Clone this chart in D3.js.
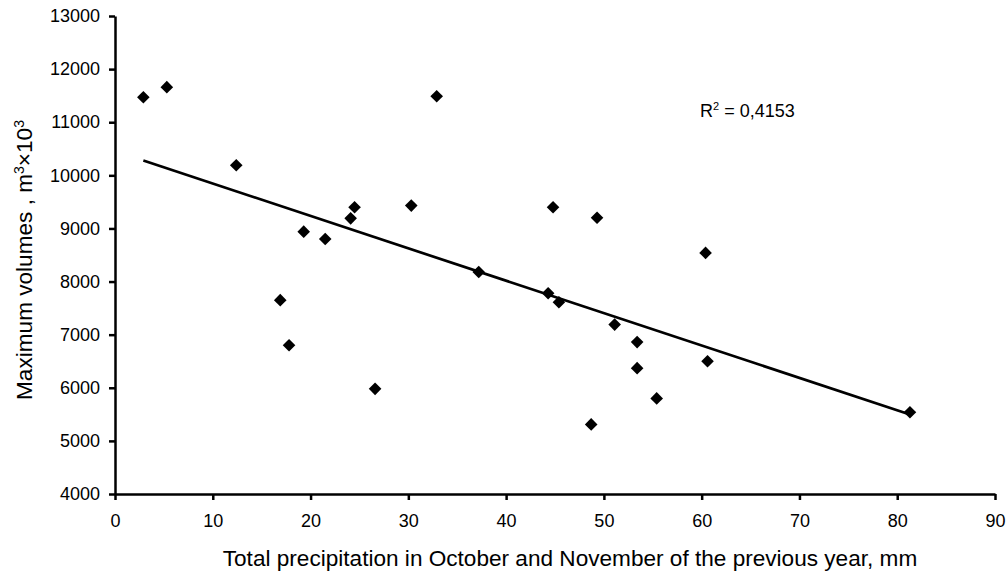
<!DOCTYPE html>
<html>
<head>
<meta charset="utf-8">
<script src="https://cdn.jsdelivr.net/npm/d3@7"></script>
<style>
  body { margin: 0; background: #fff; }
  text { font-family: "Liberation Sans", Arial, sans-serif; fill: #000; }
</style>
</head>
<body>
<div id="chart"></div>
<script>
// precipitation (mm) and maximum volumes (m3 x 10^3)
var precip = [2.9, 5.3, 12.4, 16.9, 17.8, 19.3, 21.5, 24.1, 24.5, 26.6, 30.3, 32.9, 37.2,
              44.3, 44.8, 45.4, 48.7, 49.3, 51.1, 53.4, 53.4, 55.4, 60.4, 60.6, 81.3]
var volumes = [11470, 11660, 10190, 7650, 6800, 8940, 8800, 9190, 9400, 5980, 9430, 11490, 8180,
               7780, 9400, 7610, 5310, 9200, 7190, 6860, 6370, 5800, 8540, 6500, 5540]
var xTicks = [0, 10, 20, 30, 40, 50, 60, 70, 80, 90]
var yTicks = [4000, 5000, 6000, 7000, 8000, 9000, 10000, 11000, 12000, 13000]
var r2Label = '0,4153'

// set the dimensions and margins of the graph
var width = 1007,
    height = 574,
    margin = {top: 16, right: 12, bottom: 80, left: 115}

var svg = d3.select('#chart')
  .append('svg')
    .attr('width', width)
    .attr('height', height)

var x = d3.scaleLinear().domain([0, 90]).range([margin.left, width - margin.right])
var y = d3.scaleLinear().domain([4000, 13000]).range([height - margin.bottom, margin.top])

// axes
var xAxis = svg.append('g')
  .attr('transform', 'translate(0,' + y(4000) + ')')
  .call(d3.axisBottom(x).tickValues(xTicks).tickFormat(d3.format('d'))
    .tickSize(6).tickSizeOuter(0).tickPadding(14))
var yAxis = svg.append('g')
  .attr('transform', 'translate(' + x(0) + ',0)')
  .call(d3.axisLeft(y).tickValues(yTicks).tickFormat(d3.format('d'))
    .tickSize(6).tickSizeOuter(0).tickPadding(9))

svg.selectAll('.domain, .tick line')
  .attr('stroke', '#000')
  .attr('stroke-width', 2.5)
svg.selectAll('.tick text')
  .style('font-family', '"Liberation Sans", Arial, sans-serif')
  .style('font-size', '18px')
  .attr('fill', '#000')
xAxis.selectAll('.tick text').attr('dy', '0.71em')

// linear trend line (least squares)
var mx = d3.mean(precip), my = d3.mean(volumes)
var sxy = d3.sum(precip, function(d, i) { return (d - mx) * (volumes[i] - my) })
var sxx = d3.sum(precip, function(d) { return (d - mx) * (d - mx) })
var slope = sxy / sxx, intercept = my - slope * mx
var ext = d3.extent(precip)

svg.append('line')
  .attr('x1', x(ext[0])).attr('y1', y(intercept + slope * ext[0]))
  .attr('x2', x(ext[1])).attr('y2', y(intercept + slope * ext[1]))
  .attr('stroke', '#000')
  .attr('stroke-width', 2.7)

// diamond markers
var s = 6.3
svg.append('g')
  .selectAll('path')
  .data(precip)
  .enter()
  .append('path')
  .attr('d', function(d, i) {
    var cx = x(d), cy = y(volumes[i])
    return 'M' + cx + ',' + (cy - s) + 'L' + (cx + s) + ',' + cy +
           'L' + cx + ',' + (cy + s) + 'L' + (cx - s) + ',' + cy + 'Z'
  })
  .attr('fill', '#000')

// R squared label
var r2 = svg.append('text')
  .attr('x', 700)
  .attr('y', 117)
  .style('font-size', '18px')
r2.append('tspan').text('R')
r2.append('tspan').attr('dy', -7).style('font-size', '11px').text('2')
r2.append('tspan').attr('dy', 7).text(' = ' + r2Label)

// axis titles
svg.append('text')
  .attr('x', 570)
  .attr('y', 566)
  .attr('text-anchor', 'middle')
  .style('font-size', '22.6px')
  .text('Total precipitation in October and November of the previous year, mm')

var yt = svg.append('text')
  .attr('transform', 'translate(32,260) rotate(-90)')
  .attr('text-anchor', 'middle')
  .style('font-size', '22.6px')
yt.append('tspan').text('Maximum volumes , m')
yt.append('tspan').attr('dy', -8).style('font-size', '14px').text('3')
yt.append('tspan').attr('dy', 8).text('\u00d710')
yt.append('tspan').attr('dy', -8).style('font-size', '14px').text('3')
</script>
</body>
</html>
